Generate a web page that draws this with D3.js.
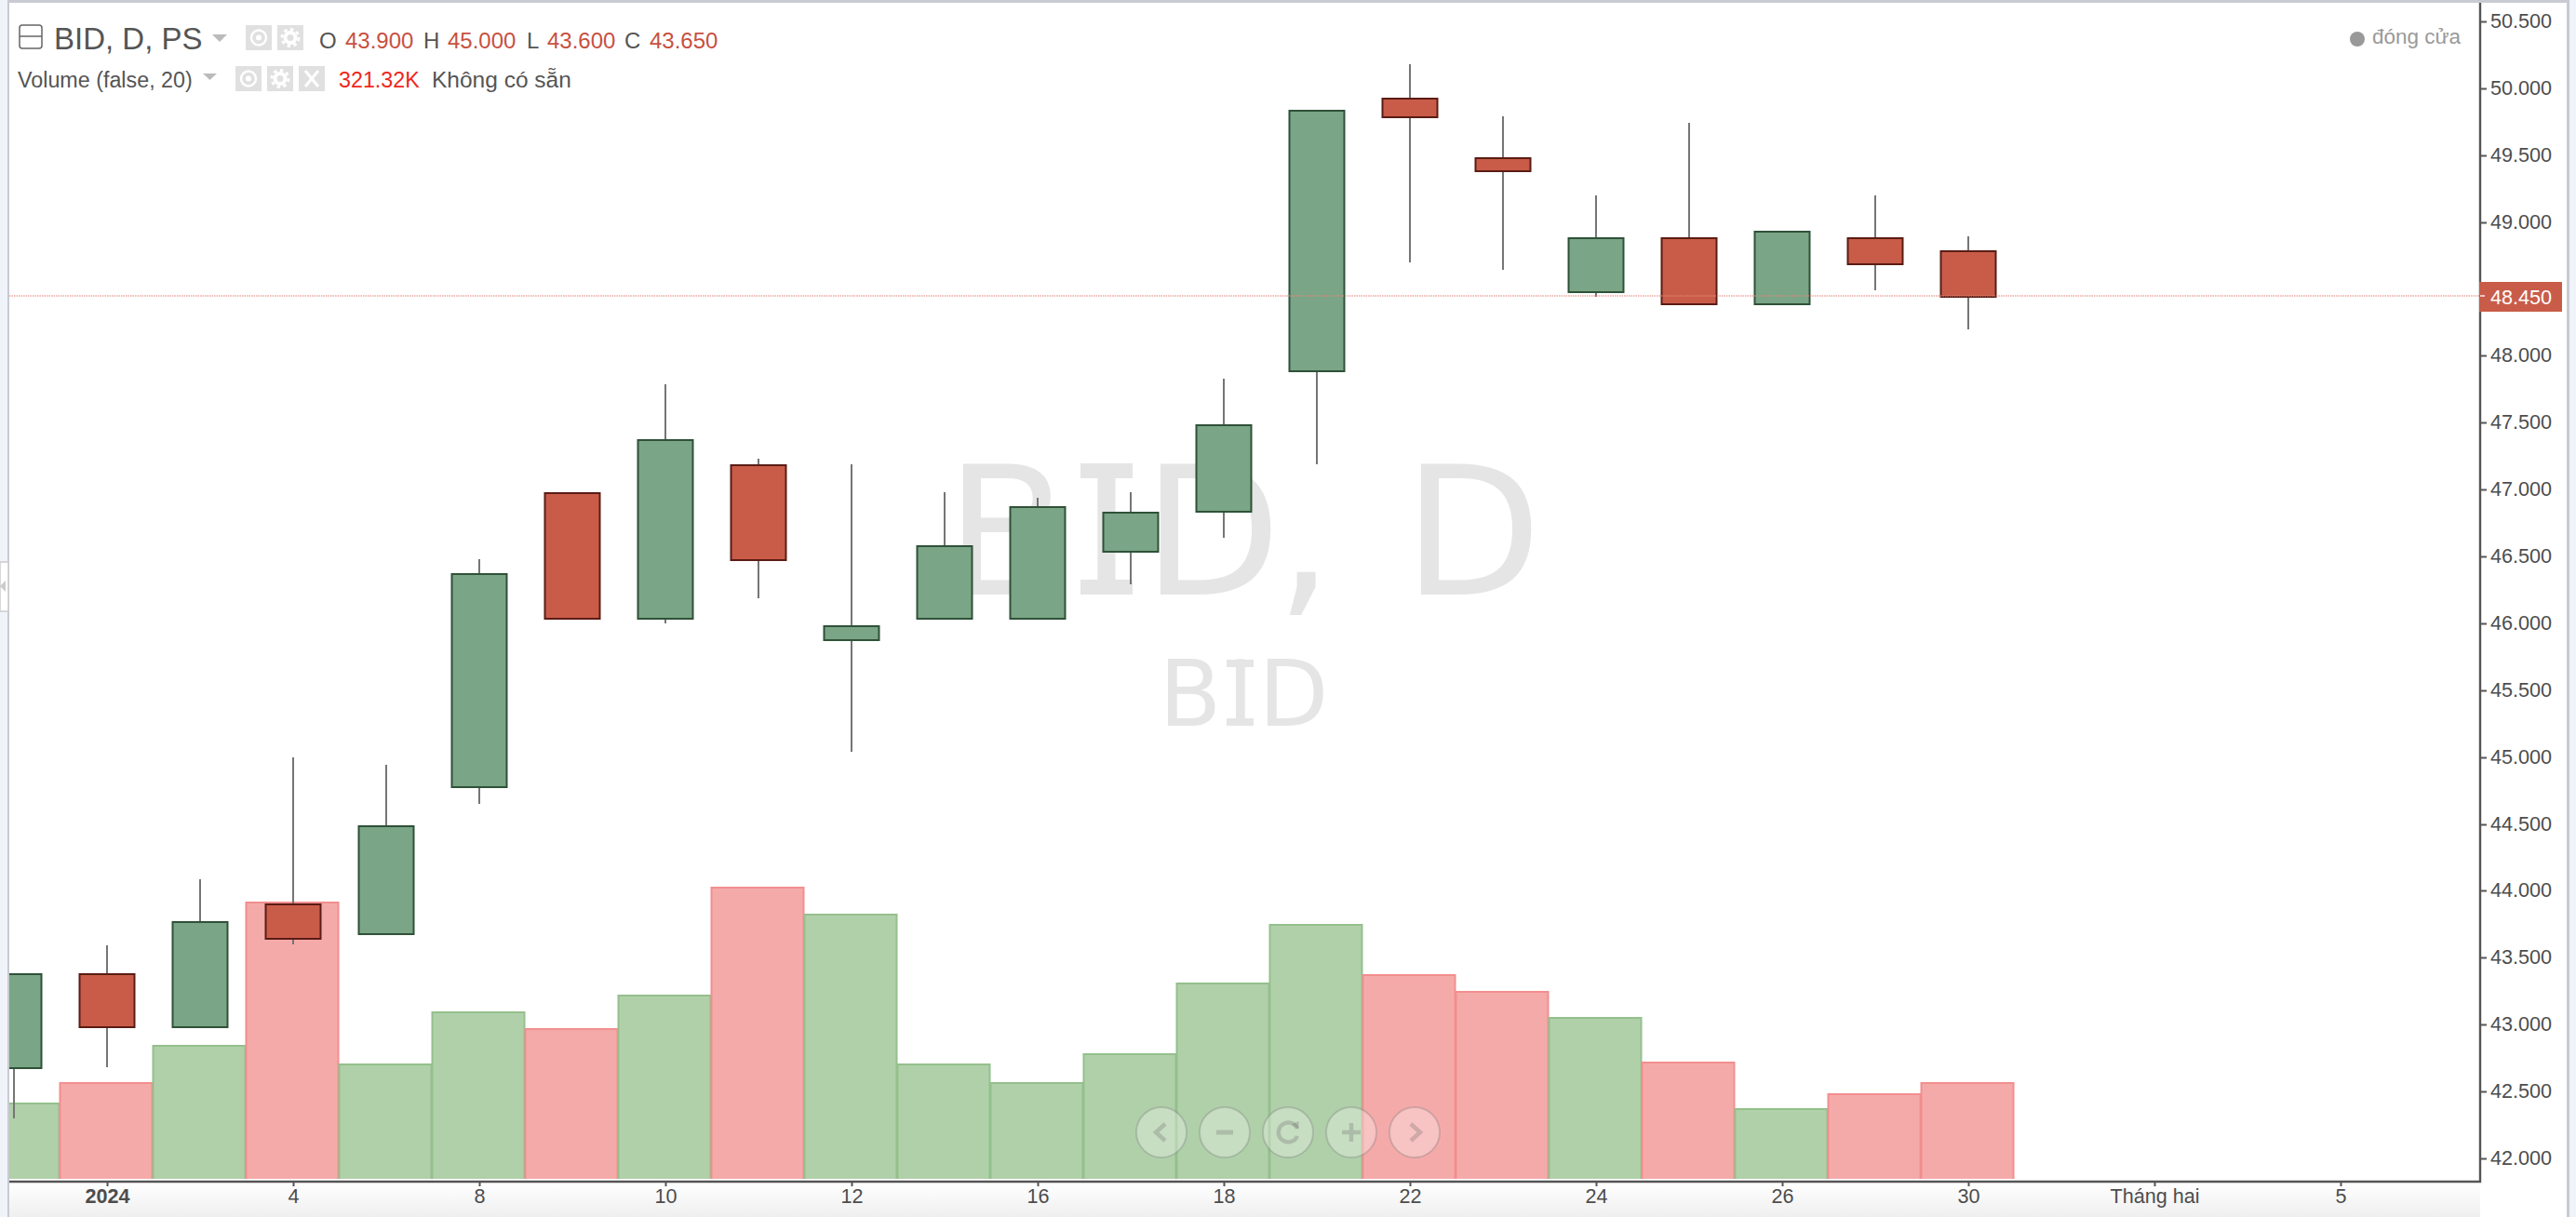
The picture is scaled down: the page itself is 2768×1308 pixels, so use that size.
<!DOCTYPE html>
<html><head><meta charset="utf-8">
<script src="https://d3js.org/d3.v7.min.js"></script>
<style>
html,body{margin:0;padding:0;background:#f0f3fa;overflow:hidden}
svg{display:block}
text{font-family:"Liberation Sans",Arial,sans-serif}
</style></head><body><svg id="c" width="2768" height="1308"></svg>
<script>
// ---- data ----
const dates = ["29","2024","3","4","5","8","9","10","11","12","15","16","17","18","19","22","23","24","25","26","29","30","31","Tháng hai","2","5"];
const tickLabels = ["2024","4","8","10","12","16","18","22","24","26","30","Tháng hai","5"];
const priceTicks = [42,42.5,43,43.5,44,44.5,45,45.5,46,46.5,47,47.5,48,48.5,49,49.5,50,50.5];
const opens  = [42.68,43.38,42.99,43.90,43.68,44.78,46.97,46.04,47.18,45.88,46.04,46.04,46.54,46.84,47.89,49.92,49.48,48.48,48.88,48.39,48.88,48.78];
const closes = [43.38,42.99,43.77,43.65,44.48,46.37,46.04,47.37,46.48,45.98,46.58,46.87,46.83,47.48,49.83,49.79,49.39,48.88,48.39,48.93,48.69,48.45];
const highs  = [43.38,43.59,44.09,45.00,44.94,46.48,46.97,47.79,47.23,47.19,46.98,46.94,46.98,47.83,49.83,50.18,49.79,49.20,49.74,48.93,49.20,48.89];
const lows   = [42.30,42.68,42.99,43.60,43.68,44.65,46.04,46.00,46.19,45.04,46.04,46.04,46.29,46.64,47.19,48.70,48.64,48.44,48.39,48.39,48.49,48.20];
const volumes= [88.4,112.1,155.3,321.32,133.7,194.1,174.7,213,338.3,307.6,133.7,112.1,145.9,227.8,295.4,237.2,217.8,187.6,135.9,82,99.2,112.1];
const lastPrice = 48.45;
const symbolTitle = "BID, D, PS";
const ohlcLabels = ["O","H","L","C"];
const ohlcValues = ["43.900","45.000","43.600","43.650"];
const volumeTitle = "Volume (false, 20)";
const volumeValue = "321.32K";
const volumeNote = "Không có sẵn";
const legendText = "đóng cửa";

// ---- scales ----
const x = d3.scalePoint().domain(d3.range(dates.length)).range([15,2515]);
const y = d3.scaleLinear().domain([42,50.5]).rangeRound([1245,23]);
const yV = d3.scaleLinear().domain([0,321.32]).rangeRound([1267,969]);
const col = {axis:"#555",text:"#4d4d4d",upF:"#7aa586",upS:"#2f5138",dnF:"#c95c48",dnS:"#5a1c14",wick:"#757575",
  vUpF:"#b0d0aa",vUpS:"#94c08c",vDnF:"#f5aaaa",vDnS:"#f28e8e"};

const svg = d3.select("#c");
const defs = svg.append("defs");
const grad = defs.append("linearGradient").attr("id","bot").attr("x1",0).attr("x2",0).attr("y1",0).attr("y2",1);
grad.append("stop").attr("offset",0).attr("stop-color","#fff");
grad.append("stop").attr("offset",1).attr("stop-color","#efefef");
defs.append("clipPath").attr("id","plot").append("rect").attr("x",10).attr("y",3).attr("width",2655).attr("height",1264);

// ---- frame ----
svg.append("rect").attr("x",0).attr("y",0).attr("width",2768).attr("height",1308).attr("fill","#f0f3fa");
svg.append("rect").attr("x",8).attr("y",0).attr("width",2753).attr("height",1308).attr("fill","#c8cbd1");
svg.append("rect").attr("x",10).attr("y",3).attr("width",2748).attr("height",1305).attr("fill","#fff");
svg.append("rect").attr("x",10).attr("y",1271).attr("width",2655).attr("height",37).attr("fill","url(#bot)");
// side collapse handle
svg.append("rect").attr("x",0).attr("y",604).attr("width",9).attr("height",53).attr("fill","#fff").attr("stroke","#ccc").attr("stroke-width",1.5);
svg.append("path").attr("d","M0 630 L6 624 L6 636 Z").attr("fill","#ccc");

// ---- watermark (real text; slab serifs added on the I, as in the reference face) ----
const wm = svg.append("g").attr("fill","#e5e5e5");
wm.append("text").attr("y",639).attr("font-size",193).style("font-family","'DejaVu Sans'")
  .attr("x","1016 1160.5 1228 1371 1420 1508").text("BID, D");
wm.append("rect").attr("x",1161).attr("y",498).attr("width",56).attr("height",16);
wm.append("rect").attr("x",1161).attr("y",623).attr("width",56).attr("height",16);
wm.append("text").attr("y",780).attr("font-size",97.4).style("font-family","'DejaVu Sans'")
  .attr("x","1245.5 1318.6 1352.5").text("BID");
wm.append("rect").attr("x",1318).attr("y",709).attr("width",29).attr("height",8);
wm.append("rect").attr("x",1318).attr("y",772).attr("width",29).attr("height",8);

const plot = svg.append("g").attr("clip-path","url(#plot)");
const idx = d3.range(opens.length);

// ---- volume ----
plot.selectAll("rect.v").data(idx).join("rect").attr("class","v")
  .attr("x",i=>x(i)-50.5).attr("width",99)
  .attr("y",i=>yV(volumes[i])+1).attr("height",i=>yV(0)-yV(volumes[i])+4)
  .attr("fill",i=>closes[i]>=opens[i]?col.vUpF:col.vDnF)
  .attr("stroke",i=>closes[i]>=opens[i]?col.vUpS:col.vDnS).attr("stroke-width",2);

// ---- candles ----
plot.selectAll("line.w").data(idx).join("line").attr("class","w")
  .attr("x1",i=>x(i)).attr("x2",i=>x(i)).attr("y1",i=>y(highs[i])).attr("y2",i=>y(lows[i]))
  .attr("stroke",col.wick).attr("stroke-width",2);
plot.selectAll("rect.b").data(idx).join("rect").attr("class","b")
  .attr("x",i=>x(i)-29.5).attr("width",59)
  .attr("y",i=>y(Math.max(opens[i],closes[i])))
  .attr("height",i=>y(Math.min(opens[i],closes[i]))-y(Math.max(opens[i],closes[i]))+1)
  .attr("fill",i=>closes[i]>=opens[i]?col.upF:col.dnF)
  .attr("stroke",i=>closes[i]>=opens[i]?col.upS:col.dnS).attr("stroke-width",2);

// ---- last price line ----
svg.append("line").attr("x1",10).attr("x2",2665).attr("y1",y(lastPrice)).attr("y2",y(lastPrice))
  .attr("stroke","#e8897a").attr("stroke-opacity",.55).attr("stroke-width",2).attr("stroke-dasharray","1.5 1");

// ---- axes ----
const axR = d3.axisRight(y).tickValues(priceTicks).tickFormat(d3.format(".3f")).tickSize(7).tickPadding(4);
const gR = svg.append("g").attr("transform","translate(2665,0)").call(axR);
gR.select(".domain").remove();
gR.selectAll("line").attr("stroke",col.axis).attr("stroke-width",2);
gR.selectAll("text").attr("fill",col.text).style("font-size","21.6px").style("font-family","'Liberation Sans'");
svg.append("line").attr("x1",2665).attr("x2",2665).attr("y1",3).attr("y2",1271).attr("stroke",col.axis).attr("stroke-width",2.4);

const tickIdx = dates.map((d,i)=>i).filter(i=>tickLabels.includes(dates[i]) && i%2===1);
const axB = d3.axisBottom(x).tickValues(tickIdx).tickFormat(i=>dates[i]).tickSize(5).tickPadding(3);
const gB = svg.append("g").attr("transform","translate(0,1270)").call(axB);
gB.select(".domain").remove();
gB.selectAll("line").attr("stroke",col.axis).attr("stroke-width",2);
gB.selectAll("text").attr("fill",col.text).style("font-size","21.6px").style("font-family","'Liberation Sans'")
  .style("font-weight",i=>dates[i]==="2024"?"bold":"normal");
svg.append("line").attr("x1",10).attr("x2",2666).attr("y1",1270).attr("y2",1270).attr("stroke",col.axis).attr("stroke-width",2.4);

// ---- last price tag ----
svg.append("rect").attr("x",2664).attr("y",303).attr("width",89).attr("height",32).attr("fill",col.dnF);
svg.append("line").attr("x1",2665).attr("x2",2670).attr("y1",y(lastPrice)).attr("y2",y(lastPrice)).attr("stroke","#f0c4bc").attr("stroke-width",2);
svg.append("text").attr("x",2676).attr("y",326.5).attr("fill","#fff").attr("font-size",21.6).text(lastPrice.toFixed(3));

// ---- legend ----
svg.append("circle").attr("cx",2533).attr("cy",42).attr("r",8).attr("fill","#999");
svg.append("text").attr("x",2549).attr("y",47).attr("fill","#999").attr("font-size",22.5).text(legendText);

// ---- header ----
const H = svg.append("g");
H.append("rect").attr("x",21).attr("y",27).attr("width",24).attr("height",25).attr("rx",3).attr("fill","none").attr("stroke","#666").attr("stroke-width",1.5);
H.append("line").attr("x1",21).attr("x2",45).attr("y1",39).attr("y2",39).attr("stroke","#666").attr("stroke-width",1.5);
H.append("text").attr("x",58).attr("y",53).attr("font-size",33).attr("fill","#555").text(symbolTitle);
H.append("path").attr("d","M228 37 L244 37 L236 45 Z").attr("fill","#bbb");
function iconBox(x0,y0,kind){
  const g=H.append("g").attr("transform",`translate(${x0},${y0})`);
  g.append("rect").attr("width",28).attr("height",27).attr("fill","#e0e0e0");
  if(kind==="eye"){g.append("circle").attr("cx",14).attr("cy",13.5).attr("r",8).attr("fill","none").attr("stroke","#fff").attr("stroke-width",2.4);
    g.append("circle").attr("cx",14).attr("cy",13.5).attr("r",3).attr("fill","#fff");}
  if(kind==="gear"){g.append("circle").attr("cx",14).attr("cy",13.5).attr("r",5.5).attr("fill","none").attr("stroke","#fff").attr("stroke-width",4);
    g.append("circle").attr("cx",14).attr("cy",13.5).attr("r",9).attr("fill","none").attr("stroke","#fff").attr("stroke-width",3).attr("stroke-dasharray","3.5 3.5");}
  if(kind==="x"){g.append("path").attr("d","M7 5 L21 22 M21 5 L7 22").attr("stroke","#fff").attr("stroke-width",3);}
}
iconBox(264,27,"eye");iconBox(298,27,"gear");
const labX=[343,455,566,671], valX=[371,481,588,698];
ohlcLabels.forEach((l,i)=>{
  H.append("text").attr("x",labX[i]).attr("y",52).attr("font-size",24).attr("fill","#555").text(l);
  H.append("text").attr("x",valX[i]).attr("y",52).attr("font-size",24).attr("fill","#c8503f").text(ohlcValues[i]);
});
H.append("text").attr("x",19).attr("y",93.5).attr("font-size",23.3).attr("fill","#555").text(volumeTitle);
H.append("path").attr("d","M218 79 L233 79 L225.5 86 Z").attr("fill","#bbb");
iconBox(253,71,"eye");iconBox(287,71,"gear");iconBox(321,71,"x");
H.append("text").attr("x",364).attr("y",93.5).attr("font-size",23.3).attr("fill","#f0261c").text(volumeValue);
H.append("text").attr("x",464).attr("y",93.5).attr("font-size",24.5).attr("fill","#555").text(volumeNote);

// ---- navigation buttons ----
const navX=[1248,1316,1384,1452,1520];
const navGlyph=[
 "M4 -9 L-6 0 L4 9",
 "M-9 0 L9 0",
 "M10 -4 A10.5 10.5 0 1 0 10 4",
 "M-10 0 L10 0 M0 -10 L0 10",
 "M-4 -9 L6 0 L-4 9"];
const nav=svg.append("g");
navX.forEach((cx,i)=>{
  const g=nav.append("g").attr("transform",`translate(${cx},1217)`);
  g.append("circle").attr("r",27).attr("fill","#fff").attr("fill-opacity",.3).attr("stroke","#777").attr("stroke-opacity",.3).attr("stroke-width",2);
  g.append("path").attr("d",navGlyph[i]).attr("fill","none").attr("stroke","#666").attr("stroke-opacity",.28).attr("stroke-width",i===1?5:4.5);
  if(i===2) g.append("path").attr("d","M4 -9 L12 -12 L11 -3 Z").attr("fill","#666").attr("fill-opacity",.28);
});
</script></body></html>
